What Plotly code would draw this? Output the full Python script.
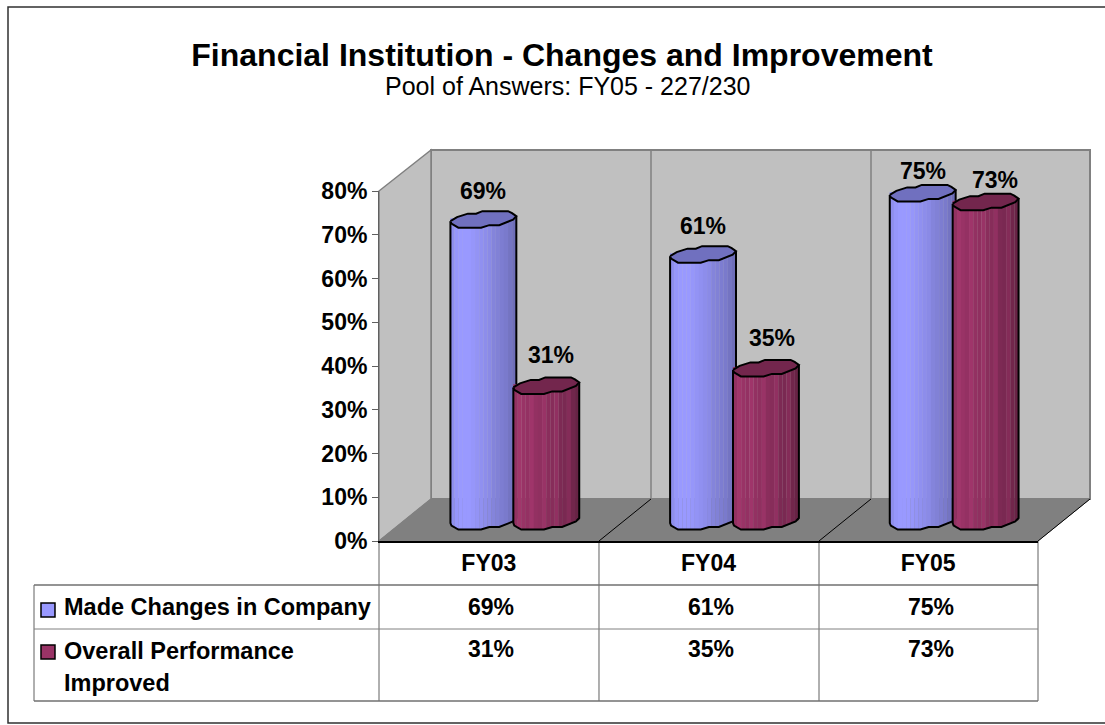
import numpy as np
import plotly.graph_objects as go

# ---- data ----
categories = ["FY03", "FY04", "FY05"]
series_line1 = ["Made Changes in Company", "Overall Performance"]
series_line2 = ["", "Improved"]
made_changes = [69, 61, 75]
overall_perf = [31, 35, 73]
y_ticks = [0, 10, 20, 30, 40, 50, 60, 70, 80]
title_text = "Financial Institution - Changes and Improvement"
subtitle_text = "Pool of Answers: FY05 - 227/230"

# ---- page geometry (pixels) ----
W, H = 1105, 725
def X(px): return px / W
def Y(py): return 1 - py / H
FONT = "Liberation Sans"
PX_PER_UNIT = (541 - 191) / 80
BELOW = 4  # units of spare axis range under the cylinder bases

# cylinder geometry in (fraction of half width, px up from centre)
TOP_OUTLINE = [(-1, -3), (-.8, 1), (-.47, 4.5), (-.22, 4.5), (-.03, 7), (.75, 7), (.87, 5), (1, 2),
               (.9, -1.5), (.48, -7), (.18, -7), (-.07, -9.5), (-.76, -9.5), (-.97, -5.5), (-1, -3)]
LOW_OUTLINE = [(-1, -3), (-.97, -5.5), (-.76, -9.5), (-.07, -9.5), (.18, -7), (.48, -7), (.9, -1.5), (1, 2)]
SHADE_BLUE = [.93, .98, 1, 1, 1, .98, .96, .94, .92, .90, .86, .84, .82, .80, .76, .72]
SHADE_RED = [.96, 1.05, 1, .97, 1.04, .96, .94, 1.0, .90, .88, .95, .82, .80, .86, .74, .68]
HALF_W = 33 / 220
OFFSET = 31.5 / 220

def shade(rgb, f):
    return "rgb(%d,%d,%d)" % tuple(int(round(c * f)) for c in rgb)

def cylinder(values, sign, rgb, shades, top_color, xa, ya):
    out = []
    n = len(shades)
    edges = np.linspace(-1, 1, n + 1)
    mids = (edges[:-1] + edges[1:]) / 2
    lowu = [p[0] for p in LOW_OUTLINE]
    lowd = [p[1] / PX_PER_UNIT for p in LOW_OUTLINE]
    sx, sy, sb, sc = [], [], [], []
    for i, v in enumerate(values):
        c = i + sign * OFFSET
        for u, f in zip(mids, shades):
            b = float(np.interp(u, lowu, lowd))
            sx.append(c + u * HALF_W)
            sb.append(b)
            sy.append(v - b)
            sc.append(shade(rgb, f))
    out.append(go.Bar(x=sx, y=sy, base=sb, width=[2 * HALF_W / n * 1.04] * len(sx),
                      marker=dict(color=sc, line=dict(width=0)), xaxis=xa, yaxis=ya,
                      cliponaxis=False, hoverinfo="skip", showlegend=False))
    for i, v in enumerate(values):
        c = i + sign * OFFSET
        # body outline
        ox = [c - HALF_W] + [c + p[0] * HALF_W for p in LOW_OUTLINE] + [c + HALF_W]
        oy = [v + LOW_OUTLINE[0][1] / PX_PER_UNIT] + [p[1] / PX_PER_UNIT for p in LOW_OUTLINE] + [v + LOW_OUTLINE[-1][1] / PX_PER_UNIT]
        out.append(go.Scatter(x=ox, y=oy, mode="lines", line=dict(color="black", width=2),
                              xaxis=xa, yaxis=ya, cliponaxis=False, hoverinfo="skip", showlegend=False))
        # top cap
        tx = [c + p[0] * HALF_W for p in TOP_OUTLINE]
        ty = [v + p[1] / PX_PER_UNIT for p in TOP_OUTLINE]
        out.append(go.Scatter(x=tx, y=ty, mode="lines", fill="toself", fillcolor=top_color,
                              line=dict(color="black", width=2), xaxis=xa, yaxis=ya,
                              cliponaxis=False, hoverinfo="skip", showlegend=False))
    return out

BLUE = (153, 153, 255)
RED = (153, 51, 102)
traces = [go.Scatter(x=[0, 1, 2], y=[0, 0, 0], mode="markers", marker=dict(opacity=0, size=1),
                     hoverinfo="skip", showlegend=False)]
traces += cylinder(made_changes, -1, BLUE, SHADE_BLUE, "#7070BF", "x2", "y2")
traces += cylinder(overall_perf, +1, RED, SHADE_RED, "#73264D", "x3", "y3")
fig = go.Figure(traces)

# ---- background shapes ----
WALL, FLOOR, EDGE = "#C0C0C0", "#808080", "#808080"
def poly(pts, fill=None, line=EDGE, width=1.5, layer="below"):
    path = "M " + " L ".join(f"{X(a):.5f} {Y(b):.5f}" for a, b in pts)
    return dict(type="path", path=path + (" Z" if fill else ""), xref="paper", yref="paper",
                fillcolor=fill or "rgba(0,0,0,0)", line=dict(color=line, width=width), layer=layer)

shapes = [
    poly([(8, 7), (1112, 7), (1112, 723), (8, 723)], "white", "#303030", 1.5),
    poly([(431, 150), (1090, 150), (1090, 499), (431, 499)], WALL, EDGE, 2),
    poly([(379, 191), (431, 150), (431, 499), (379, 541)], WALL, EDGE, 1.5),
    poly([(379, 541), (431, 499), (1090, 499), (1038, 541)], FLOOR, FLOOR, 1),
    poly([(651, 150), (651, 499)], None, EDGE, 1.5),
    poly([(871, 150), (871, 499)], None, EDGE, 1.5),
    poly([(599, 541), (651, 499)], None, "black", 1),
    poly([(819, 541), (871, 499)], None, "black", 1),
    poly([(1038, 541), (1090, 499)], None, "black", 1),
    # data table grid
    poly([(379, 541), (379, 701)], None, "#606060", 1),
    poly([(599, 541), (599, 701)], None, "#606060", 1),
    poly([(819, 541), (819, 701)], None, "#606060", 1),
    poly([(1038, 541), (1038, 701)], None, "#606060", 1),
    poly([(34, 585), (34, 701)], None, "#606060", 1),
    poly([(34, 585), (1038, 585)], None, "#707070", 1.5),
    poly([(34, 629), (1038, 629)], None, "#808080", 1),
    poly([(34, 701), (1038, 701)], None, "#707070", 1.5),
    # legend keys
    poly([(41, 603), (55, 603), (55, 617), (41, 617)], "#9999FF", "black", 1.5, "above"),
    poly([(41, 645), (55, 645), (55, 659), (41, 659)], "#993366", "black", 1.5, "above"),
]

# ---- text ----
annots = []
def txt(s, px, py, size=23, bold=True, anchor="center"):
    annots.append(dict(text=f"<b>{s}</b>" if bold else s, x=X(px), y=Y(py), xref="paper", yref="paper",
                       xanchor=anchor, yanchor="middle", showarrow=False, align="left",
                       font=dict(family=FONT, size=size, color="black")))

txt(subtitle_text, 568, 86, 25, False)
COL_X = [491, 711, 931]
for cx, a, b in zip(COL_X, made_changes, overall_perf):
    txt(f"{a}%", cx, 607)
    txt(f"{b}%", cx, 649)
txt(series_line1[0], 62, 607, 23.5, True, "left")
txt(series_line1[1], 62, 651, 23.5, True, "left")
txt(series_line2[1], 62, 683, 23.5, True, "left")

# data labels, placed by the shifted cylinder axes
LABEL_UP_BLUE = [27, 27, 21]
LABEL_UP_RED = [29, 29, 21]
LABEL_DX_RED = [5, 6, 9]
for i, (a, b) in enumerate(zip(made_changes, overall_perf)):
    annots.append(dict(text=f"<b>{a}%</b>", x=i - OFFSET, y=a, xref="x2", yref="y2", yshift=LABEL_UP_BLUE[i],
                       showarrow=False, font=dict(family=FONT, size=23, color="black")))
    annots.append(dict(text=f"<b>{b}%</b>", x=i + OFFSET, y=b, xref="x3", yref="y3", yshift=LABEL_UP_RED[i],
                       xshift=LABEL_DX_RED[i], showarrow=False, font=dict(family=FONT, size=23, color="black")))

fig.update_layout(
    width=W, height=H, margin=dict(l=0, r=0, t=0, b=0, pad=0, autoexpand=False),
    paper_bgcolor="white", plot_bgcolor="rgba(0,0,0,0)", barmode="overlay", showlegend=False,
    font=dict(family=FONT),
    title=dict(text=f"<b>{title_text}</b>", x=562 / W, xanchor="center", y=Y(55), yanchor="middle",
               xref="paper", yref="paper", font=dict(family=FONT, size=32, color="black")),
    xaxis=dict(domain=[X(379), X(1038)], range=[-0.5, 2.5], tickvals=[0, 1, 2],
               ticktext=[f"<b>{c}</b>" for c in categories], ticks="", showgrid=False, zeroline=False,
               showline=True, linecolor="black", linewidth=2,
               tickfont=dict(family=FONT, size=23, color="black"), ticklabelstandoff=0, anchor="y"),
    yaxis=dict(domain=[Y(541), Y(191)], range=[0, 80], tickvals=y_ticks,
               ticktext=[f"<b>{t}%</b>" for t in y_ticks], ticks="outside", ticklen=6,
               tickcolor="#606060", tickwidth=1, showgrid=False, zeroline=False, showline=True,
               linecolor="#606060", linewidth=1,
               tickfont=dict(family=FONT, size=23, color="black"), anchor="x"),
    xaxis2=dict(domain=[X(405), X(1064)], range=[-0.5, 2.5], visible=False, anchor="y2"),
    yaxis2=dict(domain=[Y(520 + BELOW * PX_PER_UNIT), Y(170)], range=[-BELOW, 80], visible=False, anchor="x2"),
    xaxis3=dict(range=[-0.5, 2.5], visible=False, overlaying="x2", anchor="y3"),
    yaxis3=dict(range=[-BELOW, 80], visible=False, overlaying="y2", anchor="x3"),
    shapes=shapes, annotations=annots,
)
fig.write_html("out.html", config={"displayModeBar": False},
               post_script="document.body.style.margin='0';document.body.style.overflow='hidden';")
